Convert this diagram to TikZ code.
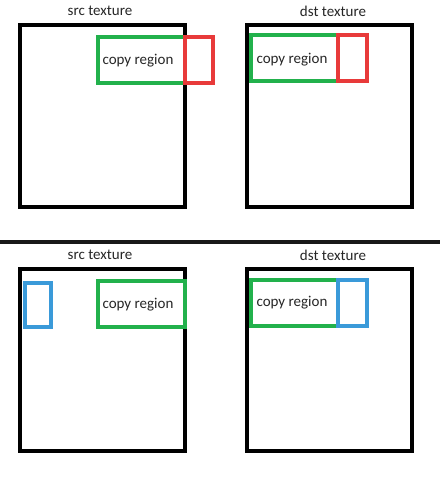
\documentclass[tikz,border=0pt]{standalone}
\usepackage{fontspec}
\setmainfont{Carlito}
\usetikzlibrary{positioning}
\definecolor{regiongreen}{RGB}{34,177,76}
\definecolor{edgered}{RGB}{232,58,58}
\definecolor{edgeblue}{RGB}{58,154,217}

\begin{document}
\begin{tikzpicture}[x=1pt, y=-1pt,
    texbox/.style={line width=4pt, draw=black},
    region/.style={line width=4pt},
    lbl/.style={font=\fontsize{15}{18}\selectfont, text=black!85, inner sep=0pt}]
    \useasboundingbox (0,0) rectangle (440,484);
    % two rows: before and after
    \foreach \row/\dy in {top/0, bot/244} {
        \draw[texbox] (20,25+\dy) rectangle (185,207+\dy);
        \draw[texbox] (247,25+\dy) rectangle (412,207+\dy);
        \node[lbl] (src\row) at (100,11+\dy) {src texture};
        \node[lbl] (dst\row) at (333,11+\dy) {dst texture};
    }
    \draw[line width=4pt, black!90] (0,242) -- (440,242);
    % top row
    \draw[region, regiongreen] (98,37) rectangle (185,83);
    \draw[region, edgered] (185,37) rectangle (213,83);
    \node[lbl] (srccopytop) at (138,61) {copy region};
    \draw[region, regiongreen] (251,35) rectangle (338,81);
    \draw[region, edgered] (338,35) rectangle (367,81);
    \node[lbl] (dstcopytop) at (292,60) {copy region};
    % bottom row
    \draw[region, edgeblue] (25,283) rectangle (51,327);
    \draw[region, regiongreen] (98,281) rectangle (185,327);
    \node[lbl] (srccopybot) at (138,305) {copy region};
    \draw[region, regiongreen] (251,280) rectangle (338,326);
    \draw[region, edgeblue] (338,280) rectangle (367,326);
    \node[lbl] (dstcopybot) at (292,303) {copy region};
\end{tikzpicture}
\end{document}
